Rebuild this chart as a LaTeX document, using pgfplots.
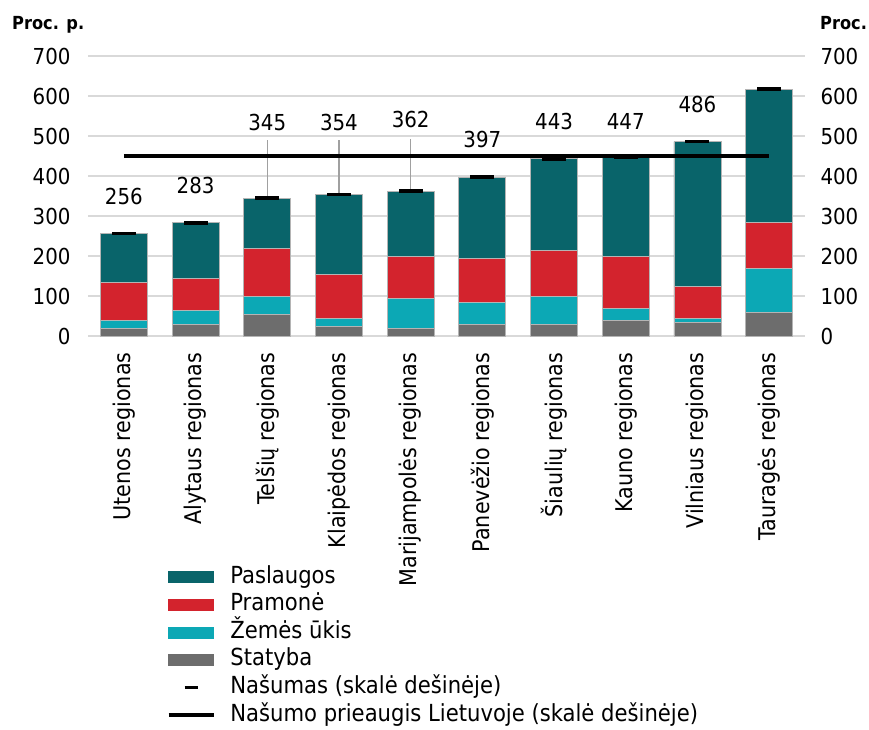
\documentclass[border=0pt]{standalone}
\usepackage{fontspec}
\setmainfont{DejaVu Sans Condensed}
\usepackage{pgfplots}
\pgfplotsset{compat=1.18}
\usepackage{pgfplotstable}

\definecolor{cPas}{HTML}{09646A}
\definecolor{cPra}{HTML}{D3232D}
\definecolor{cZem}{HTML}{0CA8B5}
\definecolor{cSta}{HTML}{6D6D6D}
\definecolor{cGrid}{HTML}{D9D9D9}
\definecolor{cEdge}{HTML}{B4B4B4}
\definecolor{cLead}{HTML}{A0A0A0}

\pgfplotstableread{
x Statyba Zemes Pramone Paslaugos
0 19 21 94 122
1 29 36 79 139
2 54 45 120 126
3 24 20 111 199
4 19 75 105 163
5 29 55 110 203
6 29 71 115 228
7 39 30 130 248
8 34 10 81 361
9 59 110 115 333
}\bars

\pgfplotstableread{
x y ly lab
0 256 349 256
1 283 377 283
2 345 535 345
3 354 533 354
4 362 541 362
5 397 491 397
6 443 536 443
7 447 536 447
8 486 579 486
9 617 711 617
}\nas

\newcommand{\tfont}{\fontsize{22}{26}\selectfont}
\newcommand{\xfont}{\fontsize{23}{27}\selectfont}
\newcommand{\lfont}{\fontsize{23.5}{28}\selectfont}

\begin{document}
\begin{tikzpicture}
\begin{axis}[
  name=ax,
  scale only axis, width=717pt, height=280pt,
  ybar stacked, bar width=47pt,
  xmin=-0.5, xmax=9.5, ymin=0, ymax=700,
  xtick={0,...,9},
  xticklabels={Utenos regionas, Alytaus regionas, Telšių regionas, Klaipėdos regionas, Marijampolės regionas, Panevėžio regionas, Šiaulių regionas, Kauno regionas, Vilniaus regionas, Tauragės regionas},
  ytick={0,100,...,700},
  ymajorgrids, grid style={cGrid, line width=1.5pt},
  axis line style={draw=none}, major tick length=0pt,
  tick label style={font=\tfont},
  /pgf/number format/assume math mode=true,
  xticklabel style={font=\xfont, yshift=-13pt, rotate=90, anchor=east},
  yticklabel style={xshift=-14pt},
]
\addplot[fill=cSta, draw=cEdge, line width=0.8pt] table[x=x, y=Statyba]{\bars};
\addplot[fill=cZem, draw=cEdge, line width=0.8pt] table[x=x, y=Zemes]{\bars};
\addplot[fill=cPra, draw=cEdge, line width=0.8pt] table[x=x, y=Pramone]{\bars};
\addplot[fill=cPas, draw=cEdge, line width=0.8pt] table[x=x, y=Paslaugos]{\bars};
\end{axis}

\begin{axis}[
  scale only axis, width=717pt, height=280pt,
  xmin=-0.5, xmax=9.5, ymin=0, ymax=700,
  axis x line=none,
  axis y line*=right,
  ytick={0,100,...,700},
  axis line style={draw=none}, major tick length=0pt,
  tick label style={font=\tfont},
  /pgf/number format/assume math mode=true,
  yticklabel style={xshift=12pt},
  legend cell align=left,
  legend style={at={(0.110,-0.818)}, anchor=north west, draw=none, fill=none,
    inner sep=0pt, outer sep=0pt, row sep=3.6pt, font=\lfont,
    nodes={inner sep=0pt, text height=18pt, text depth=6pt},
    /tikz/every odd column/.append style={column sep=15pt}},
]
\addlegendimage{legend image code/.code={\fill[cPas] (0pt,-5.5pt) rectangle (45pt,5.5pt);}}
\addlegendentry{Paslaugos}
\addlegendimage{legend image code/.code={\fill[cPra] (0pt,-5.5pt) rectangle (45pt,5.5pt);}}
\addlegendentry{Pramonė}
\addlegendimage{legend image code/.code={\fill[cZem] (0pt,-5.5pt) rectangle (45pt,5.5pt);}}
\addlegendentry{Žemės ūkis}
\addlegendimage{legend image code/.code={\fill[cSta] (0pt,-5.5pt) rectangle (45pt,5.5pt);}}
\addlegendentry{Statyba}

\addplot[forget plot, color=cLead, line width=1.5pt] coordinates {(2,345) (2,490)};
\addplot[forget plot, color=cLead, line width=1.5pt] coordinates {(3,354) (3,490)};
\addplot[forget plot, color=cLead, line width=1.5pt] coordinates {(4,362) (4,492)};

\addplot[only marks, mark=-, mark size=12pt, mark options={line width=3.5pt, black},
  legend image code/.code={\draw[black, line width=2.5pt] (16pt,0pt) -- (29pt,0pt);}]
  table[x=x, y=y]{\nas};
\addlegendentry{Našumas (skalė dešinėje)}

\addplot[black, line width=3.5pt, mark=none,
  legend image code/.code={\draw[black, line width=3.5pt] (0pt,0pt) -- (45pt,0pt);}]
  coordinates {(0,450) (9,450)};
\addlegendentry{Našumo prieaugis Lietuvoje (skalė dešinėje)}

\addplot[forget plot, draw=none, mark=none, nodes near coords, point meta=explicit symbolic,
  every node near coord/.style={anchor=center, font=\tfont, text=black, inner sep=0pt}]
  table[x=x, y=ly, meta=lab]{\nas};
\end{axis}

\node[anchor=base west, inner sep=0pt, font=\bfseries\fontsize{18}{20}\selectfont] at (-76pt,307pt) {Proc. p.};
\node[anchor=base west, inner sep=0pt, font=\bfseries\fontsize{18}{20}\selectfont] at (732pt,307pt) {Proc.};

\pgfresetboundingbox
\path[use as bounding box] (-88pt,-393pt) rectangle (781pt,336pt);
\end{tikzpicture}
\end{document}
